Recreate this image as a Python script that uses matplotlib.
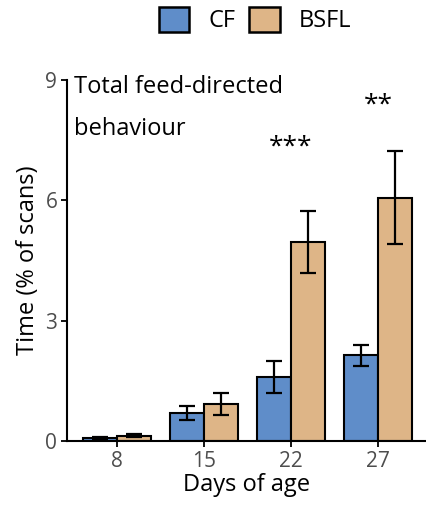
import matplotlib
matplotlib.use("Agg")
import matplotlib.pyplot as plt
import numpy as np
from matplotlib.patches import Patch

days = ["8", "15", "22", "27"]
cf_mean = [0.08, 0.70, 1.60, 2.14]
cf_se = [0.03, 0.18, 0.40, 0.26]
bsfl_mean = [0.13, 0.92, 4.96, 6.06]
bsfl_se = [0.04, 0.27, 0.78, 1.16]
sig_labels = ["", "", "***", "**"]
sig_y = [0, 0, 7.32, 8.38]

plt.rcParams['font.family'] = ['Open Sans', 'DejaVu Sans']

fig = plt.figure(figsize=(4.26, 5.05), dpi=100)
ax = fig.add_axes([67/426, 1-441/505, (426-67)/426, (441-80)/505])

x = np.arange(len(days))
w = 0.39
c_cf = "#5F8DC9"
c_bs = "#DEB587"
ax.bar(x - w/2, cf_mean, w, color=c_cf, edgecolor="black", linewidth=1.5, zorder=2)
ax.bar(x + w/2, bsfl_mean, w, color=c_bs, edgecolor="black", linewidth=1.5, zorder=2)
ax.errorbar(x - w/2, cf_mean, yerr=cf_se, fmt="none", ecolor="black", elinewidth=1.6, capsize=5.5, capthick=1.6, zorder=3)
ax.errorbar(x + w/2, bsfl_mean, yerr=bsfl_se, fmt="none", ecolor="black", elinewidth=1.6, capsize=5.5, capthick=1.6, zorder=3)

for xi, s, yy in zip(x, sig_labels, sig_y):
    if s:
        ax.text(xi, yy, s, ha="center", va="center", fontsize=19, color="black")

ax.set_xlim(-0.575, 3.55)
ax.set_ylim(0, 9)
ax.set_yticks([0, 3, 6, 9])
ax.set_xticks(x)
ax.set_xticklabels(days)
ax.tick_params(axis="both", labelsize=15, labelcolor="#4d4d4d", color="black", length=4, width=1.3, pad=3)
for sp in ["top", "right"]:
    ax.spines[sp].set_visible(False)
for sp in ["left", "bottom"]:
    ax.spines[sp].set_linewidth(1.5)
ax.set_xlabel("Days of age", fontsize=17, labelpad=1)
ax.set_ylabel("Time (% of scans)", fontsize=17, labelpad=4)

ax.text(0.02, 1.015, "Total feed-directed\nbehaviour", transform=ax.transAxes,
        ha="left", va="top", fontsize=17, linespacing=2.0)

handles = [Patch(facecolor=c_cf, edgecolor="black", linewidth=1.8, label="CF"),
           Patch(facecolor=c_bs, edgecolor="black", linewidth=1.8, label="BSFL")]
fig.legend(handles=handles, loc="center", bbox_to_anchor=(255/426, 1-20/505), ncol=2,
           frameon=False, fontsize=17, handlelength=1.3, handleheight=1.3,
           columnspacing=0.6, handletextpad=0.8)

fig.savefig("out.png", dpi=100)
